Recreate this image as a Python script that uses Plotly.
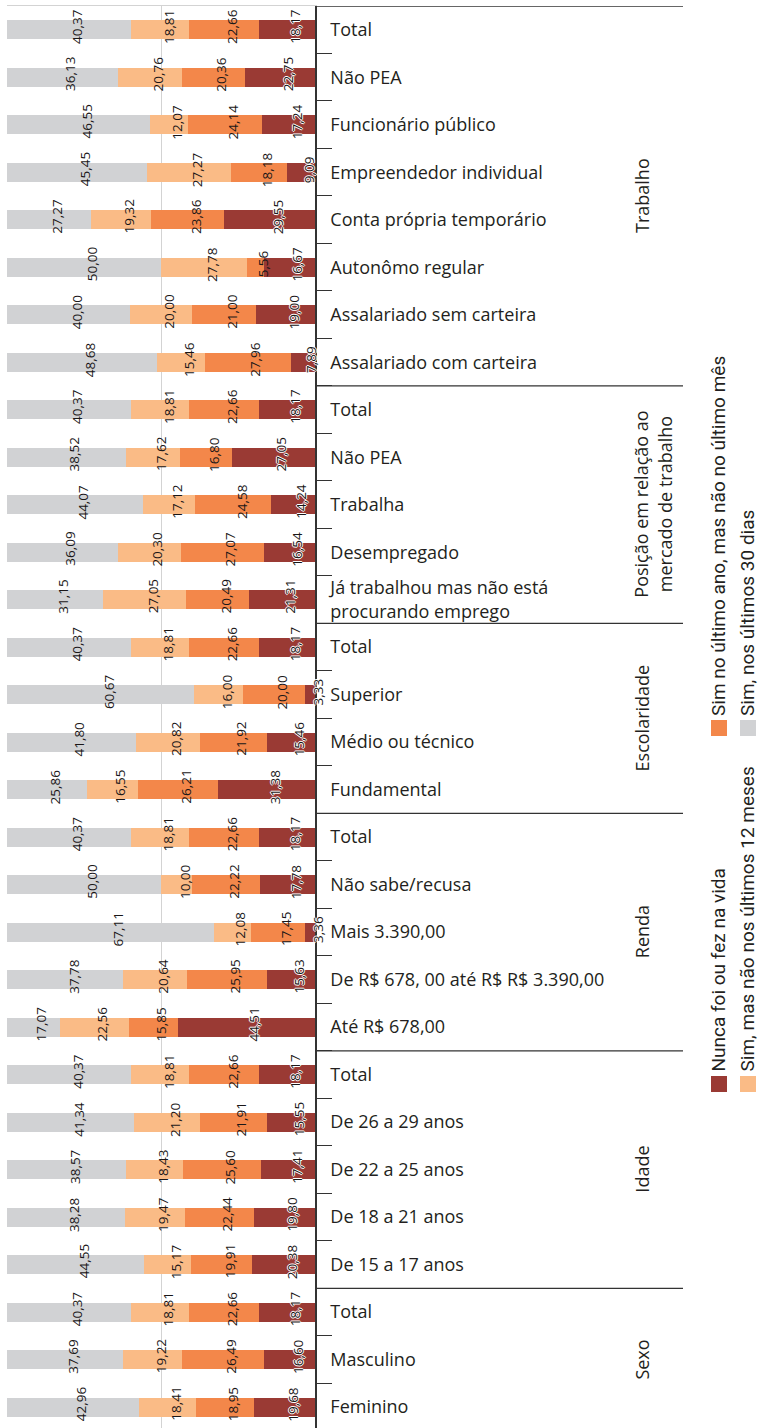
import plotly.graph_objects as go

# ---------------- data ----------------
categories = [
    "Total", "Não PEA", "Funcionário público", "Empreendedor individual",
    "Conta própria temporário", "Autonômo regular", "Assalariado sem carteira",
    "Assalariado com carteira",
    "Total", "Não PEA", "Trabalha", "Desempregado",
    "Já trabalhou mas não está<br>procurando emprego",
    "Total", "Superior", "Médio ou técnico", "Fundamental",
    "Total", "Não sabe/recusa", "Mais 3.390,00",
    "De R$ 678, 00 até R$ R$ 3.390,00", "Até R$ 678,00",
    "Total", "De 26 a 29 anos", "De 22 a 25 anos", "De 18 a 21 anos",
    "De 15 a 17 anos",
    "Total", "Masculino", "Feminino",
]
groups = ["Trabalho", "Posição em relação ao<br>mercado de trabalho",
          "Escolaridade", "Renda", "Idade", "Sexo"]
group_sizes = [8, 5, 4, 5, 5, 3]

series_names = ["Sim, nos últimos 30 dias",
                "Sim, mas não nos últimos 12 meses",
                "Sim no último ano, mas não no último mês",
                "Nunca foi ou fez na vida"]

sim_30_dias = [40.37, 36.13, 46.55, 45.45, 27.27, 50.00, 40.00, 48.68,
               40.37, 38.52, 44.07, 36.09, 31.15,
               40.37, 60.67, 41.80, 25.86,
               40.37, 50.00, 67.11, 37.78, 17.07,
               40.37, 41.34, 38.57, 38.28, 44.55,
               40.37, 37.69, 42.96]
sim_nao_12_meses = [18.81, 20.76, 12.07, 27.27, 19.32, 27.78, 20.00, 15.46,
                    18.81, 17.62, 17.12, 20.30, 27.05,
                    18.81, 16.00, 20.82, 16.55,
                    18.81, 10.00, 12.08, 20.64, 22.56,
                    18.81, 21.20, 18.43, 19.47, 15.17,
                    18.81, 19.22, 18.41]
sim_ultimo_ano = [22.66, 20.36, 24.14, 18.18, 23.86, 5.56, 21.00, 27.96,
                  22.66, 16.80, 24.58, 27.07, 20.49,
                  22.66, 20.00, 21.92, 26.21,
                  22.66, 22.22, 17.45, 25.95, 15.85,
                  22.66, 21.91, 25.60, 22.44, 19.91,
                  22.66, 26.49, 18.95]
nunca = [18.17, 22.75, 17.24, 9.09, 29.55, 16.67, 19.00, 7.89,
         18.17, 27.05, 14.24, 16.54, 21.31,
         18.17, 3.33, 15.46, 31.38,
         18.17, 17.78, 3.36, 15.63, 44.51,
         18.17, 15.55, 17.41, 19.80, 20.38,
         18.17, 16.60, 19.68]

colors = ["#d1d2d4", "#fabb86", "#f3874a", "#9a3a34"]

# ---------------- layout geometry ----------------
W, H = 758, 1428
L, R, T, B = 7, 443, 6, 0
PW, PH = W - L - R, H - T - B


def px(x):
    return (x - L) / PW


def py(y):
    return (H - B - y) / PH


n = len(categories)
rows = list(range(n))
series = [sim_30_dias, sim_nao_12_meses, sim_ultimo_ano, nunca]

fig = go.Figure()
for name, vals, col in zip(series_names, series, colors):
    fig.add_trace(go.Bar(
        y=rows, x=vals, orientation="h", name=name,
        marker=dict(color=col, line=dict(width=0)),
        showlegend=False, hoverinfo="skip",
    ))

annotations = []
shapes = []

# value labels
halo = "1px 0 0 #fff, -1px 0 0 #fff, 0 1px 0 #fff, 0 -1px 0 #fff"
for i in rows:
    start = 0.0
    for k, vals in enumerate(series):
        v = vals[i]
        annotations.append(dict(
            x=start + v / 2, y=i, xref="x", yref="y",
            text=f"{v:.2f}".replace(".", ","), textangle=-90,
            showarrow=False, xshift=8, yshift=3,
            font=dict(family="Open Sans", size=13.5, color="#1a1718",
                      shadow=halo if k == len(series) - 1 else "none"),
        ))
        start += v

# group separators and labels
b = -0.5
for g, s in zip(groups, group_sizes):
    shapes.append(dict(type="line", xref="paper", yref="y",
                       x0=1, x1=px(683), y0=b, y1=b,
                       line=dict(color="#333333", width=1.3)))
    center = b + s / 2
    two_line = "<br>" in g
    annotations.append(dict(
        x=px(653 if two_line else 642), y=center, xref="paper", yref="y",
        text=g, textangle=-90, showarrow=False, xanchor="center", yanchor="middle",
        font=dict(family="Open Sans", size=18, color="#231f20"),
    ))
    b += s

# legend (rotated)
legend_pos = [  # (marker x-left, marker y-top, text x-center) in pixels
    (740, 720, 747),   # Sim, nos últimos 30 dias
    (740, 1076, 747),  # Sim, mas não nos últimos 12 meses
    (711, 720, 718),   # Sim no último ano, mas não no último mês
    (711, 1076, 718),  # Nunca foi ou fez na vida
]
for name, col, (mx, my, tx) in zip(series_names, colors, legend_pos):
    shapes.append(dict(type="rect", xref="paper", yref="paper",
                       x0=px(mx), x1=px(mx + 16), y0=py(my + 16), y1=py(my),
                       fillcolor=col, line=dict(width=0)))
    annotations.append(dict(
        x=px(tx), y=py(my - 2), xref="paper", yref="paper",
        text=name, textangle=-90, showarrow=False,
        xanchor="center", yanchor="bottom",
        font=dict(family="Liberation Sans Narrow, Roboto, Open Sans", size=19, color="#231f20"),
    ))

fig.update_layout(
    template="none",
    width=W, height=H,
    margin=dict(l=L, r=R, t=T, b=B, autoexpand=False),
    barmode="stack", bargap=0.6,
    plot_bgcolor="white", paper_bgcolor="white",
    xaxis=dict(range=[0, 100], side="top", showticklabels=False, ticks="",
               tickmode="array", tickvals=[50], showgrid=True,
               gridcolor="#d3d3d3", gridwidth=1.2, zeroline=False,
               showline=True, linecolor="#d3d3d3", linewidth=1.2,
               automargin=False, fixedrange=True),
    yaxis=dict(range=[29.44, -0.5], side="right", tickmode="array",
               tickvals=rows, ticktext=categories,
               ticks="outside", ticklen=10, tickcolor="rgba(0,0,0,0)",
               tickfont=dict(family="Open Sans", size=18, color="#231f20"),
               showline=True, linecolor="#333333", linewidth=1.5,
               showgrid=False, zeroline=False, automargin=False,
               minor=dict(tickmode="array", tickvals=[i + 0.5 for i in range(n - 1)],
                          ticks="outside", ticklen=15, tickcolor="#333333",
                          tickwidth=1.2, showgrid=False)),
    annotations=annotations,
    shapes=shapes,
)

fig.write_html("out.html", config={"displayModeBar": False},
               post_script="document.body.style.margin='0';document.body.style.overflow='hidden';")
